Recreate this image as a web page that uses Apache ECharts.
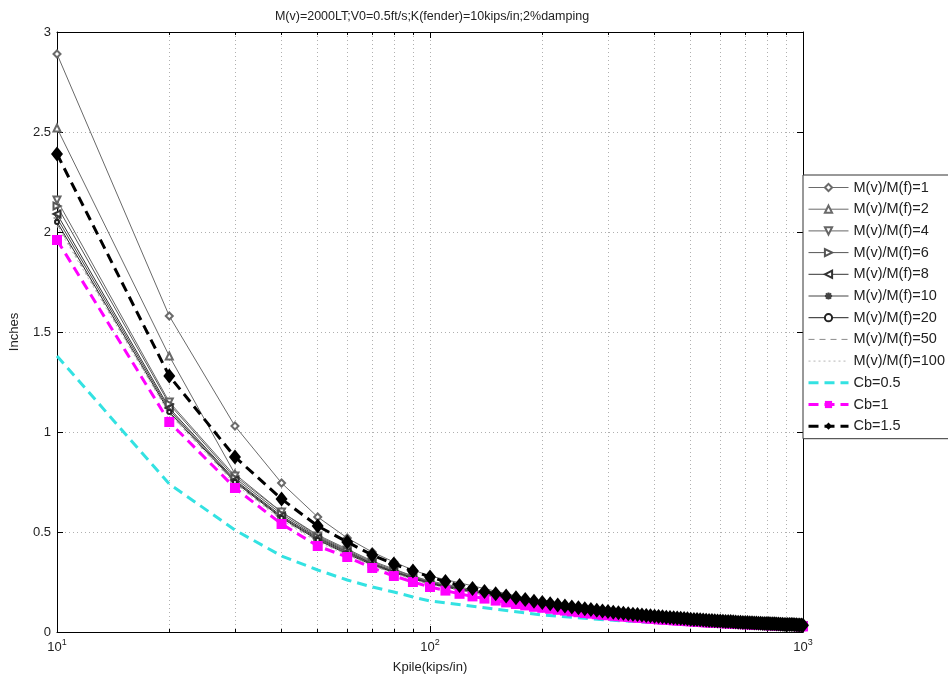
<!DOCTYPE html>
<html>
<head>
<meta charset="utf-8">
<script src="https://cdn.jsdelivr.net/npm/echarts@6/dist/echarts.min.js"></script>
<style>html,body{margin:0;padding:0;background:#fff;}#c{width:948px;height:679px;}</style>
</head>
<body>
<div id="c"></div>
<script>
// ---- data ----
var titleText = 'M(v)=2000LT;V0=0.5ft/s;K(fender)=10kips/in;2%damping';
var xName = 'Kpile(kips/in)';
var yName = 'Inches';
var yTicks = [0, 0.5, 1, 1.5, 2, 2.5, 3];

var kSparse = [10,20,30,40,50,60,70,80,90,100,200,300,400,500,600,700,800,900,1000];
var kDense = [10,20,30,40,50,60,70,80,90,100,110,120,130,140,150,160,170,180,190,200,
  210,220,230,240,250,260,270,280,290,300,310,320,330,340,350,360,370,380,390,400,
  410,420,430,440,450,460,470,480,490,500,510,520,530,540,550,560,570,580,590,600,
  610,620,630,640,650,660,670,680,690,700,710,720,730,740,750,760,770,780,790,800,
  810,820,830,840,850,860,870,880,890,900,910,920,930,940,950,960,970,980,990,1000];

var m1   = [2.89,1.58,1.03,0.745,0.575,0.47,0.40,0.35,0.31,0.28,0.15,0.105,0.08,0.065,0.054,0.047,0.041,0.037,0.033];
var m2   = [2.52,1.38,0.79,0.60,0.485,0.415,0.355,0.315,0.28,0.255,0.14,0.097,0.075,0.060,0.050,0.044,0.039,0.035,0.031];
var m4   = [2.16,1.15,0.78,0.60,0.48,0.41,0.35,0.31,0.28,0.25,0.135,0.095,0.073,0.059,0.049,0.043,0.038,0.034,0.030];
var m6   = [2.13,1.14,0.77,0.59,0.475,0.405,0.345,0.305,0.275,0.248,0.134,0.094,0.072,0.058,0.049,0.043,0.038,0.034,0.030];
var m8   = [2.09,1.12,0.76,0.58,0.47,0.40,0.342,0.302,0.272,0.245,0.133,0.093,0.072,0.058,0.048,0.042,0.037,0.033,0.030];
var m10  = [2.07,1.11,0.755,0.575,0.465,0.395,0.34,0.30,0.27,0.243,0.132,0.093,0.071,0.057,0.048,0.042,0.037,0.033,0.029];
var m20  = [2.05,1.10,0.75,0.57,0.46,0.39,0.336,0.297,0.267,0.240,0.131,0.092,0.071,0.057,0.048,0.042,0.037,0.033,0.029];
var m50  = [2.04,1.095,0.745,0.565,0.455,0.388,0.333,0.295,0.265,0.238,0.130,0.091,0.070,0.057,0.047,0.041,0.036,0.032,0.029];
var m100 = [2.03,1.09,0.74,0.56,0.45,0.385,0.33,0.293,0.263,0.236,0.130,0.091,0.070,0.056,0.047,0.041,0.036,0.032,0.029];

var cb05 = [1.38,0.74,0.51,0.38,0.31,0.26,0.225,0.20,0.175,0.155,0.085,0.060,0.047,0.038,0.032,0.028,0.025,0.022,0.020];

var cb1 = [1.96,1.05,0.72,0.54,0.43,0.375,0.32,0.28,0.25,0.225,
  0.207,0.191,0.178,0.167,0.157,0.148,0.140,0.133,0.126,0.121,
  0.116,0.111,0.107,0.103,0.099,0.095,0.092,0.089,0.086,0.084,
  0.081,0.079,0.077,0.075,0.073,0.071,0.070,0.068,0.066,0.065,
  0.063,0.062,0.061,0.060,0.058,0.057,0.057,0.055,0.054,0.053,
  0.052,0.051,0.050,0.049,0.048,0.048,0.047,0.046,0.045,0.045,
  0.044,0.043,0.043,0.043,0.042,0.041,0.040,0.040,0.039,0.039,
  0.039,0.038,0.038,0.037,0.037,0.036,0.036,0.035,0.035,0.034,
  0.034,0.034,0.034,0.034,0.033,0.033,0.032,0.032,0.031,0.031,
  0.031,0.030,0.030,0.030,0.030,0.030,0.029,0.029,0.029,0.028];

var cb15 = [2.39,1.28,0.875,0.665,0.53,0.45,0.385,0.34,0.305,0.275,
  0.252,0.233,0.217,0.203,0.191,0.180,0.171,0.162,0.154,0.147,
  0.141,0.135,0.130,0.125,0.121,0.116,0.112,0.109,0.105,0.102,
  0.099,0.096,0.094,0.091,0.089,0.087,0.085,0.083,0.081,0.079,
  0.077,0.076,0.074,0.073,0.071,0.070,0.069,0.067,0.066,0.064,
  0.063,0.062,0.061,0.060,0.059,0.058,0.057,0.056,0.055,0.055,
  0.054,0.053,0.052,0.052,0.051,0.050,0.049,0.049,0.048,0.048,
  0.047,0.046,0.046,0.045,0.045,0.044,0.044,0.043,0.043,0.042,
  0.042,0.041,0.041,0.041,0.040,0.040,0.039,0.039,0.038,0.038,
  0.038,0.037,0.037,0.037,0.036,0.036,0.035,0.035,0.035,0.034];

// ---- build ----
function pairs(xs, ys){ return xs.map(function(x,i){ return [x, ys[i]]; }); }
var FONT = 'Liberation Sans, Arial, sans-serif';
var starPath = 'path://M0,-5L0,5M-5,0L5,0M-3.6,-3.6L3.6,3.6M-3.6,3.6L3.6,-3.6';

function mSeries(name, ys, color, symbol, rot, size, ltype, lw){
  return {
    name: name, type: 'line', data: pairs(kSparse, ys),
    symbol: symbol, symbolSize: size, symbolRotate: rot || 0,
    showSymbol: symbol !== 'none',
    lineStyle: {color: color, width: lw || 1, type: ltype || 'solid'},
    itemStyle: symbol.indexOf('path://') === 0 ? {color: 'none', borderColor: color, borderWidth: 1} : {color: color, borderWidth: 1},
    z: 2, animation: false
  };
}

var series = [
  mSeries('M(v)/M(f)=1', m1, '#6a6a6a', 'emptyDiamond', 0, 7),
  mSeries('M(v)/M(f)=2', m2, '#6a6a6a', 'emptyTriangle', 0, 7),
  mSeries('M(v)/M(f)=4', m4, '#666666', 'emptyTriangle', 180, 7),
  mSeries('M(v)/M(f)=6', m6, '#555555', 'emptyTriangle', -90, 7),
  mSeries('M(v)/M(f)=8', m8, '#333333', 'emptyTriangle', 90, 7),
  mSeries('M(v)/M(f)=10', m10, '#444444', starPath, 0, 7),
  mSeries('M(v)/M(f)=20', m20, '#222222', 'emptyCircle', 0, 4),
  mSeries('M(v)/M(f)=50', m50, '#8a8a8a', 'none', 0, 0, [6,5]),
  mSeries('M(v)/M(f)=100', m100, '#b5b5b5', 'none', 0, 0, [2,3]),
  {
    name: 'Cb=0.5', type: 'line', data: pairs(kSparse, cb05), symbol: 'none',
    lineStyle: {color: '#33e2e2', width: 3, type: [10,6]}, itemStyle: {color: '#33e2e2'}, z: 3, animation: false
  },
  {
    name: 'Cb=1', type: 'line', data: pairs(kDense, cb1), symbol: 'rect', symbolSize: 10,
    lineStyle: {color: '#ff00ff', width: 3, type: [10,6]}, itemStyle: {color: '#ff00ff'}, z: 4, animation: false
  },
  {
    name: 'Cb=1.5', type: 'line', data: pairs(kDense, cb15), symbol: 'diamond', symbolSize: [12,15],
    lineStyle: {color: '#000000', width: 3, type: [10,6]}, itemStyle: {color: '#000000'}, z: 5, animation: false
  }
];

var hidden = {color: 'rgba(0,0,0,0)', borderColor: 'rgba(0,0,0,0)', borderWidth: 0};
var legendData = series.map(function(s){
  var d = {name: s.name, lineStyle: {color: s.lineStyle.color, width: s.lineStyle.width, type: s.lineStyle.type}};
  if (s.symbol === 'none') d.itemStyle = hidden;
  return d;
});

var chart = echarts.init(document.getElementById('c'), null, {renderer: 'canvas'});
var gridLine = {show: true, lineStyle: {color: '#b0b0b0', type: [1,3], width: 1}};
chart.setOption({
  backgroundColor: '#ffffff',
  animation: false,
  textStyle: {fontFamily: FONT},
  title: {
    text: titleText, left: 427, top: 5, textAlign: 'center',
    textStyle: {fontSize: 12.5, fontWeight: 'normal', color: '#222', fontFamily: FONT}
  },
  grid: {left: 55, right: 145, top: 32, bottom: 45, containLabel: false},
  legend: {
    orient: 'vertical', left: 803, top: 175,
    data: legendData,
    itemWidth: 40, itemHeight: 9, itemGap: 6.7,
    padding: [5, 6, 5, 4],
    borderColor: '#333', borderWidth: 1, backgroundColor: '#fff',
    textStyle: {fontSize: 14.5, color: '#222', fontFamily: FONT},
    selectedMode: false
  },
  xAxis: [{
    type: 'log', logBase: 10, min: 10, max: 1000,
    name: xName, nameLocation: 'middle', nameGap: 29,
    nameTextStyle: {fontSize: 13, color: '#222', fontFamily: FONT},
    axisLine: {show: true, onZero: false, lineStyle: {color: '#000', width: 1}},
    axisTick: {show: true, inside: true, length: 6, lineStyle: {color: '#000'}},
    minorTick: {show: true, splitNumber: 9, length: 3, lineStyle: {color: '#000'}},
    splitLine: gridLine,
    minorSplitLine: {show: true, lineStyle: {color: '#b0b0b0', type: [1,3], width: 1}},
    axisLabel: {
      margin: 6, color: '#222',
      formatter: function(v){ return '{b|10}{s|' + Math.round(Math.log10(v)) + '}'; },
      rich: {
        b: {fontSize: 13, color: '#222', fontFamily: FONT},
        s: {fontSize: 9, color: '#222', fontFamily: FONT, padding: [0,0,10,0]}
      }
    }
  }, {
    type: 'log', logBase: 10, min: 10, max: 1000, position: 'top',
    axisLine: {show: true, onZero: false, lineStyle: {color: '#000', width: 1}},
    axisTick: {show: true, inside: true, length: 6, lineStyle: {color: '#000'}},
    minorTick: {show: true, splitNumber: 9, length: 3, lineStyle: {color: '#000'}},
    axisLabel: {show: false}, splitLine: {show: false}
  }],
  yAxis: [{
    type: 'value', min: 0, max: 3, interval: 0.5,
    name: yName, nameLocation: 'middle', nameGap: 36, nameRotate: 90,
    nameTextStyle: {fontSize: 13, color: '#222', fontFamily: FONT},
    axisLine: {show: true, onZero: false, lineStyle: {color: '#000', width: 1}},
    axisTick: {show: true, inside: true, length: 6, lineStyle: {color: '#000'}},
    splitLine: gridLine,
    axisLabel: {fontSize: 13, color: '#222', margin: 6, fontFamily: FONT,
      formatter: function(v){ return yTicks.indexOf(v) >= 0 ? String(v) : ''; }}
  }, {
    type: 'value', min: 0, max: 3, interval: 0.5, position: 'right',
    axisLine: {show: true, onZero: false, lineStyle: {color: '#000', width: 1}},
    axisTick: {show: true, inside: true, length: 6, lineStyle: {color: '#000'}},
    axisLabel: {show: false}, splitLine: {show: false}
  }],
  series: series
});
</script>
</body>
</html>
